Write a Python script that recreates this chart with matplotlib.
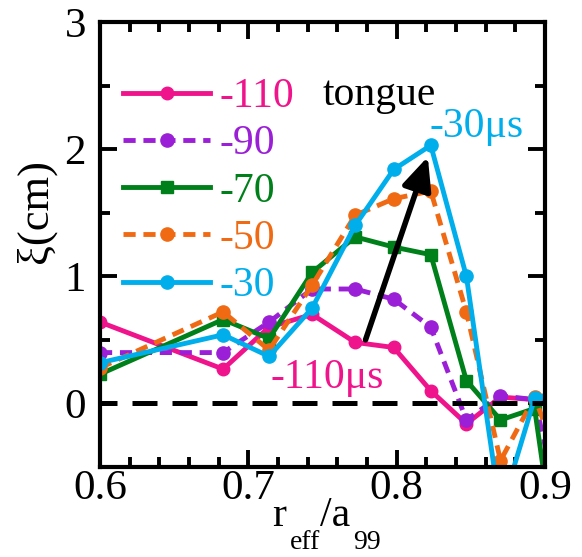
import numpy as np
import matplotlib.pyplot as plt

plt.rcParams['font.family'] = ['Liberation Serif', 'DejaVu Serif']

# radial positions r_eff/a99
r = [0.6, 0.683, 0.714, 0.743, 0.772, 0.798, 0.823, 0.847, 0.870, 0.893, 0.917]

# displacement xi (cm) for each time (us)
xi_110 = [0.64, 0.27, 0.60, 0.70, 0.48, 0.44, 0.10, -0.16, 0.05, 0.03, 0.02]
xi_90 = [0.40, 0.40, 0.64, 0.90, 0.90, 0.82, 0.60, -0.13, 0.06, 0.03, -1.2]
xi_70 = [0.23, 0.66, 0.51, 1.03, 1.31, 1.23, 1.17, 0.18, -0.13, -0.04, -2.0]
xi_50 = [0.28, 0.72, 0.42, 0.93, 1.48, 1.61, 1.67, 0.72, -0.45, 0.05, -0.7]
xi_30 = [0.32, 0.54, 0.37, 0.75, 1.40, 1.84, 2.03, 1.00, -0.85, 0.04, 0.12]

labels = ['-110', '-90', '-70', '-50', '-30']
colors = ['#F0148C', '#9B1FD6', '#00801A', '#F06A14', '#00AEEC']

W, H = 582, 557
fig = plt.figure(figsize=(W / 100, H / 100), dpi=100)
ax = fig.add_axes([100 / W, 1 - 467 / H, 445 / W, 445 / H])

lw = 3.5
dash = (0, (2.5, 1.6))
ax.plot(r, xi_110, color=colors[0], lw=lw, marker='o', ms=9, label=labels[0])
ax.plot(r, xi_90, color=colors[1], lw=lw, ls=dash, marker='o', ms=9.5, label=labels[1])
ax.plot(r, xi_70, color=colors[2], lw=lw, marker='s', ms=9, label=labels[2])
ax.plot(r, xi_50, color=colors[3], lw=lw, ls=dash, marker='o', ms=9.5, label=labels[3])
ax.plot(r, xi_30, color=colors[4], lw=lw, marker='o', ms=9.5, label=labels[4])

# zero line
ax.axhline(0, color='black', lw=3.6, ls=(1.6, (5, 3)), zorder=3)

# arrow showing growth of the tongue
ax.annotate('', xy=(0.821, 1.94), xytext=(0.779, 0.50),
            arrowprops=dict(arrowstyle='-|>,head_length=2.0,head_width=0.9',
                            color='black', lw=4, shrinkA=0, shrinkB=0))

ax.text(0.788, 2.43, 'tongue', fontsize=30, ha='center', va='center')
ax.text(0.822, 2.18, '-30μs', fontsize=30, color=colors[4], ha='left', va='center')
ax.text(0.753, 0.20, '-110μs', fontsize=30, color=colors[0], ha='center', va='center')

ax.set_xlim(0.6, 0.9)
ax.set_ylim(-0.5, 3)
ax.set_xticks([0.6, 0.7, 0.8, 0.9])
ax.set_xticklabels(['0.6', '0.7', '0.8', '0.9'])
ax.set_xticks(np.arange(0.6, 0.9001, 0.02), minor=True)
ax.set_yticks([0, 1, 2, 3])
ax.set_yticks([-0.5, 0.5, 1.5, 2.5], minor=True)

ax.tick_params(which='both', direction='in', top=True, right=True, width=2.8, labelsize=31)
ax.tick_params(axis='x', pad=2)
ax.tick_params(axis='y', pad=10)
ax.tick_params(which='major', length=12)
ax.tick_params(which='minor', length=7)
for s in ax.spines.values():
    s.set_linewidth(3)

# axis labels, x label built from pieces to get the low subscripts
fig.text(36 / W, 1 - 211 / H, 'ξ(cm)', fontsize=32, rotation=90, ha='center', va='center')
fig.text(272 / W, 1 - 526 / H, 'r', fontsize=30, va='baseline')
fig.text(290 / W, 1 - 549 / H, 'eff', fontsize=20, va='baseline')
fig.text(320 / W, 1 - 526 / H, '/a', fontsize=30, va='baseline')
fig.text(353 / W, 1 - 549 / H, '99', fontsize=20, va='baseline')

leg = ax.legend(loc='upper left', bbox_to_anchor=(0.052, 0.875), frameon=False,
                fontsize=30, labelcolor='linecolor', handlelength=2.09,
                handletextpad=0.22, labelspacing=0.21, borderpad=0, borderaxespad=0)

fig.savefig('out.png', dpi=100)
